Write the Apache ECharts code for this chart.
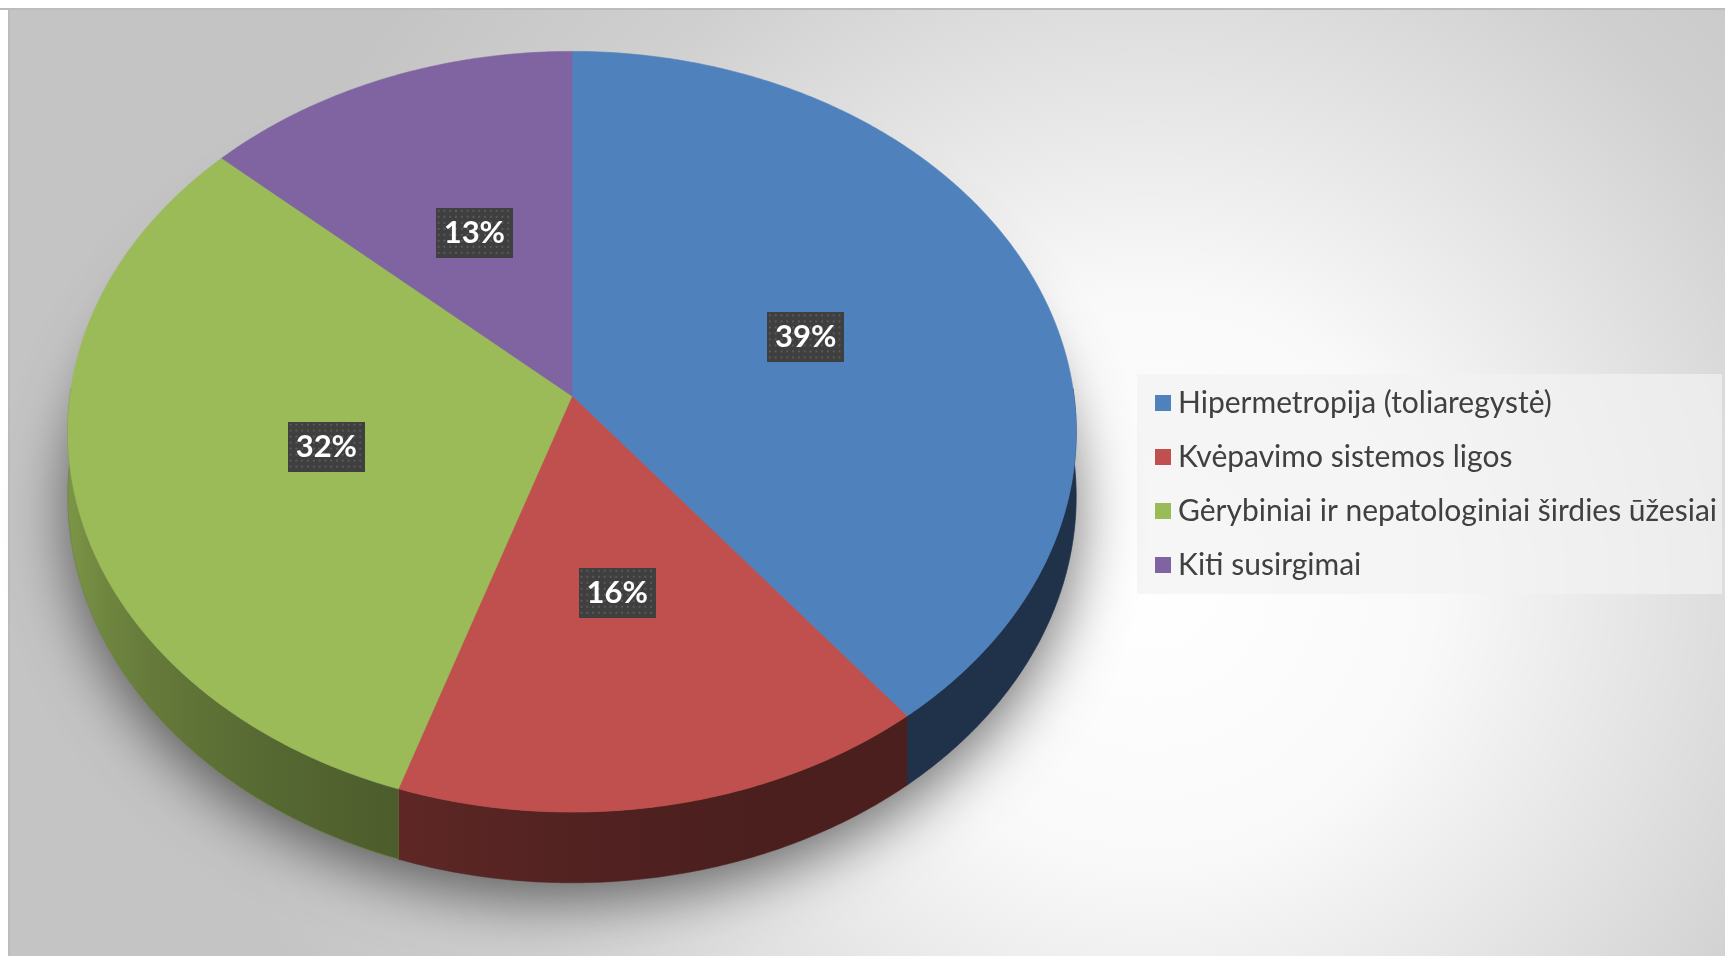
<!DOCTYPE html>
<html><head><meta charset="utf-8">
<script src="https://cdn.jsdelivr.net/npm/echarts@6/dist/echarts.min.js"></script>
<style>html,body{margin:0;padding:0;background:#fff}#c{width:1725px;height:956px}</style>
</head><body><div id="c"></div>
<script>
// ---- data ----
const categories = ['Hipermetropija (toliaregystė)', 'Kvėpavimo sistemos ligos', 'Gėrybiniai ir nepatologiniai širdies ūžesiai', 'Kiti susirgimai'];
const values = [39.4, 15.7, 31.6, 13.3];
const topColors = ['#4f81bd', '#c0504d', '#9bbb59', '#8064a2'];

// ---- layout (pixels) ----
const L = { cx: 572, cy: 396, rx: 502, ry: 377, p: 0.094, depth: 64, labelR: 0.5, labelDy: 2 };

function proj(t, r, down) {
  const u = r * Math.sin(t), v = -r * Math.cos(t);
  const w = 1 - L.p * v;
  return [L.cx + L.rx * u / w, L.cy + (L.ry * v + down) / w];
}
function shade(hex, f) {
  const n = parseInt(hex.slice(1), 16);
  const r = Math.round(((n >> 16) & 255) * f), g = Math.round(((n >> 8) & 255) * f), b = Math.round((n & 255) * f);
  return 'rgb(' + r + ',' + g + ',' + b + ')';
}
function sideFactor(t) {
  const deg = t * 180 / Math.PI;
  let k = (deg - 160) / 95; k = Math.max(0, Math.min(1, k));
  return 0.39 + 0.4 * Math.pow(k, 1.5);
}
// dotted label background
function makePattern() {
  const c = document.createElement('canvas'); c.width = 80; c.height = 50;
  const g = c.getContext('2d');
  g.fillStyle = '#3f3f3f'; g.fillRect(0, 0, 80, 50);
  g.fillStyle = '#5a5a5a';
  for (let y = 2; y < 50; y += 6) for (let x = 2; x < 80; x += 6) g.fillRect(x, y, 2, 2);
  return c;
}
const pattern = makePattern();

function makeRender(i) {
  return function (params, api) {
    const total = values.reduce((a, b) => a + b, 0);
    let before = 0; for (let k = 0; k < i; k++) before += values[k];
    const val = api.value(0);
    const a0 = before / total * 2 * Math.PI, a1 = (before + val) / total * 2 * Math.PI;
    const children = [];
    if (i === 0) {
      const pts = [];
      for (let k = 0; k < 360; k++) pts.push(proj(k * Math.PI / 180, 1.0, L.depth));
      children.push({ type: 'polygon', shape: { points: pts }, z2: 1,
        style: { fill: 'rgba(150,150,150,1)', shadowBlur: 60, shadowColor: 'rgba(0,0,0,0.55)', shadowOffsetY: 18 } });
    }
    // side band (front half only)
    const s0 = Math.max(a0, Math.PI / 2 - 0.02), s1 = Math.min(a1, 1.5 * Math.PI + 0.02);
    if (s1 > s0) {
      const n = Math.max(2, Math.ceil((s1 - s0) / (Math.PI / 360)));
      const topPts = [], botPts = [];
      for (let k = 0; k <= n; k++) {
        const t = s0 + (s1 - s0) * k / n;
        topPts.push(proj(t, 1, 0)); botPts.push(proj(t, 1, L.depth));
      }
      const pts = topPts.concat(botPts.slice().reverse());
      const xs0 = topPts[0][0], xs1 = topPts[n][0];
      const stops = []; let last = 0;
      for (let k = 0; k <= 10; k++) {
        const t = s0 + (s1 - s0) * k / 10;
        let off = (proj(t, 1, 0)[0] - xs0) / (xs1 - xs0);
        off = Math.max(last, Math.min(1, off)); last = off;
        stops.push({ offset: off, color: shade(topColors[i], sideFactor(t)) });
      }
      children.push({ type: 'polygon', shape: { points: pts }, z2: 5,
        style: { fill: { type: 'linear', x: xs0, y: 0, x2: xs1, y2: 0, global: true, colorStops: stops },
                 stroke: shade(topColors[i], sideFactor((s0 + s1) / 2)), lineWidth: 0.6 } });
    }
    // top face
    const tp = [proj(0, 0, 0)];
    const m = Math.max(2, Math.ceil((a1 - a0) / (Math.PI / 360)));
    for (let k = 0; k <= m; k++) tp.push(proj(a0 + (a1 - a0) * k / m, 1, 0));
    children.push({ type: 'polygon', shape: { points: tp }, z2: 10,
      style: { fill: topColors[i], stroke: topColors[i], lineWidth: 0.6 } });
    // label
    const lp = proj((a0 + a1) / 2, L.labelR, 0);
    children.push({ type: 'text', x: lp[0], y: lp[1] + L.labelDy, z2: 20,
      style: { text: Math.round(val / total * 100) + '%', fill: '#ffffff',
        font: 'bold 31px Lato', align: 'center', verticalAlign: 'middle',
        lineHeight: 34, padding: [8, 8, 8, 8],
        backgroundColor: { image: pattern },
        boxShadowBlur: 6, boxShadowColor: 'rgba(0,0,0,0.55)', boxShadowOffsetX: 3, boxShadowOffsetY: 3 } });
    return { type: 'group', children: children };
  };
}

const chart = echarts.init(document.getElementById('c'), null, { renderer: 'canvas' });
chart.setOption({
  animation: false,
  color: topColors,
  graphic: [
    { type: 'rect', z: -10, shape: { x: 9, y: 9, width: 1716, height: 947 }, style: { fill: '#c4c4c4' } },
    { type: 'rect', z: -9, shape: { x: 9, y: 9, width: 1716, height: 947 },
      style: { fill: { type: 'radial', x: 1150, y: 580, r: 950, global: true,
        colorStops: [{ offset: 0, color: 'rgba(255,255,255,1)' }, { offset: 0.3, color: 'rgba(255,255,255,0.9)' },
                     { offset: 0.75, color: 'rgba(255,255,255,0.2)' }, { offset: 1, color: 'rgba(255,255,255,0)' }] } } },
    { type: 'rect', z: -8, shape: { x: 0, y: 8, width: 1725, height: 2 }, style: { fill: '#bcbcbc' } },
    { type: 'rect', z: -8, shape: { x: 8, y: 8, width: 2, height: 948 }, style: { fill: '#bcbcbc' } },
    { type: 'rect', z: -7, shape: { x: 1137, y: 374, width: 585, height: 220 }, style: { fill: 'rgba(242,242,242,0.7)' } }
  ],
  legend: {
    orient: 'vertical', left: 1150, top: 382, itemWidth: 16, itemHeight: 16, itemGap: 22, icon: 'rect',
    data: categories,
    textStyle: { fontFamily: 'Lato', fontSize: 30, lineHeight: 32, color: '#404040', padding: [0, 0, 0, 2] }
  },
  series: categories.map((name, i) => ({
    type: 'custom', name: name, coordinateSystem: 'none',
    itemStyle: { color: topColors[i] },
    data: [[values[i]]],
    renderItem: makeRender(i)
  }))
});
</script>
</body></html>
